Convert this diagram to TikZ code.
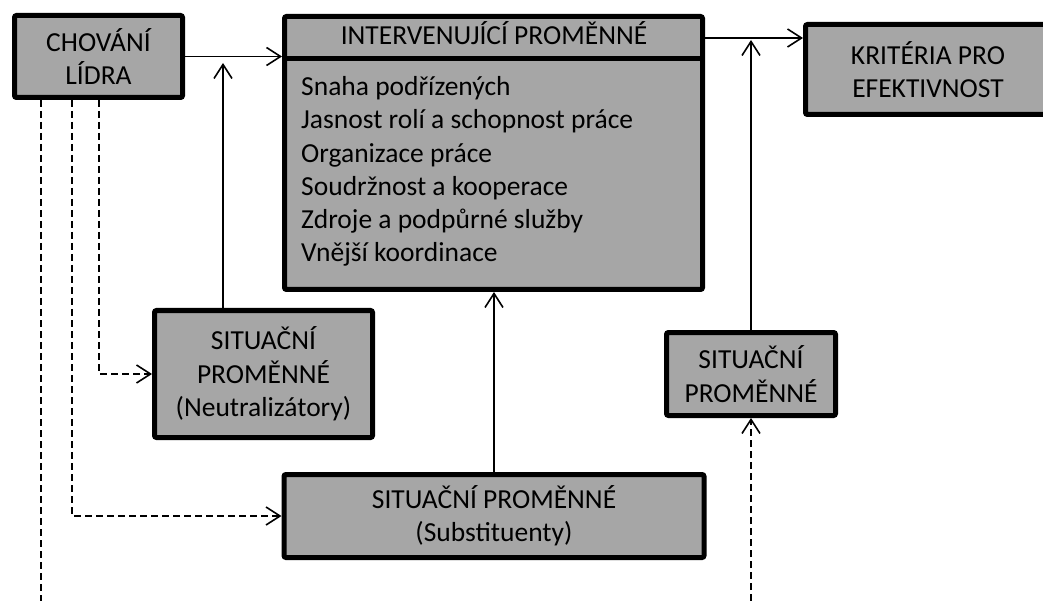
\documentclass[tikz,border=0pt]{standalone}
\usepackage{fontspec}
\setmainfont{Carlito}
\usetikzlibrary{arrows.meta}
\definecolor{boxgray}{HTML}{A6A6A6}
\begin{document}
\begin{tikzpicture}[x=1pt,y=-1pt,
  txt/.style={font=\fontsize{27.5}{33.3}\selectfont},
  box/.style={draw, line width=5pt, fill=boxgray, rounded corners=2pt,
    inner sep=0pt, align=center, txt},
  link/.style={line width=1.6pt,
    -{Straight Barb[length=14pt,width=18pt,line width=1.6pt]}},
  dlink/.style={link, line width=2pt, dash pattern=on 7pt off 4pt}
]
\useasboundingbox (0,0) rectangle (1043,601);

% boxes
\node[box, minimum width=168pt, minimum height=82pt] (chov) at (98.5,56.5)
  {CHOVÁNÍ\\LÍDRA};
\node[box, minimum width=418pt, minimum height=273pt] (int) at (493.5,153) {};
\coordinate (ydiv) at (0,58.5);
\draw[line width=5pt] (int.west |- ydiv) -- (int.east |- ydiv);
\node[txt, anchor=base, inner sep=0pt] (inthead) at (494,45)
  {INTERVENUJÍCÍ PROMĚNNÉ};
% the base anchor of a multi-line node sits on its last line
\node[txt, anchor=base west, align=left, inner sep=0pt] (intlist) at (301,262)
  {Snaha podřízených\\
   Jasnost rolí a schopnost práce\\
   Organizace práce\\
   Soudržnost a kooperace\\
   Zdroje a podpůrné služby\\
   Vnější koordinace};
\node[box, minimum width=245pt, minimum height=90pt] (krit) at (928,69.5)
  {KRITÉRIA PRO\\EFEKTIVNOST};
\node[box, minimum width=218pt, minimum height=127pt] (neut) at (263.5,374)
  {SITUAČNÍ\\PROMĚNNÉ\\(Neutralizátory)};
\node[box, minimum width=169pt, minimum height=83pt] (sit) at (751,374)
  {SITUAČNÍ\\PROMĚNNÉ};
\node[box, minimum width=420pt, minimum height=83pt] (subst) at (494,516)
  {SITUAČNÍ PROMĚNNÉ\\(Substituenty)};

% helper coordinates
\coordinate (ykrit) at (0,38);
\coordinate (j1) at (223,63);
\coordinate (j2) at (751,40);
\coordinate (d1) at (99,0);
\coordinate (d2) at (72,0);
\coordinate (d3) at (41,0);
\coordinate (d3end) at (41,612);
\coordinate (d4start) at (751,612);

% solid connectors
\draw[link] (chov.east) -- (chov.east -| int.west);
\draw[link] (neut.north -| j1) -- (j1);
\draw[link] (int.east |- ykrit) -- (krit.west |- ykrit);
\draw[link] (sit.north) -- (j2);
\draw[link] (subst.north) -- (subst.north |- int.south);

% dashed connectors
\draw[dlink] (chov.south -| d1) |- (neut.west);
\draw[dlink] (chov.south -| d2) |- (subst.west);
\draw[dlink, -] (chov.south -| d3) -- (d3end);
\draw[dlink] (d4start) -- (sit.south);
\end{tikzpicture}
\end{document}
